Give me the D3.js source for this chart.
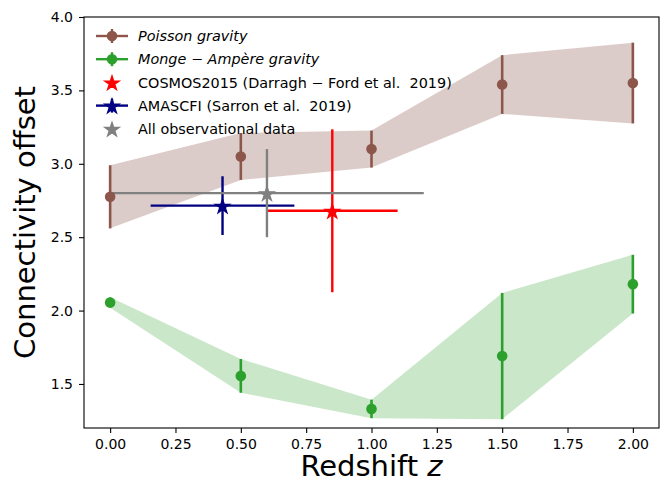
<!DOCTYPE html>
<html>
<head>
<meta charset="utf-8">
<script src="https://cdn.jsdelivr.net/npm/d3@7"></script>
<style>
  html, body { margin: 0; padding: 0; background: #fff; }
  svg { display: block; font-family: "DejaVu Sans", sans-serif; }
</style>
</head>
<body>
<svg id="chart" width="671" height="484"></svg>
<script>
// Redshift bins of the simulation runs
const redshifts = [0, 0.5, 1, 1.5, 2];

// Connectivity offset, Poisson gravity (mean and 1-sigma)
const poissonValues = [2.775, 3.05, 3.10, 3.54, 3.55];
const poissonErrors = [0.215, 0.16, 0.126, 0.2, 0.275];

// Connectivity offset, Monge–Ampère gravity (mean and 1-sigma)
const mongeValues = [2.055, 1.555, 1.33, 1.69, 2.18];
const mongeErrors = [0.035, 0.115, 0.063, 0.43, 0.2];

// Observational measurements: [z, zErr, offset, offsetErr]
const cosmosPoint = [0.85, 0.25, 2.68, 0.555];
const amascfiPoint = [0.43, 0.275, 2.715, 0.2];
const allObsPoint = [0.6, 0.6, 2.8, 0.3];

const xTicks = [0, 0.25, 0.5, 0.75, 1, 1.25, 1.5, 1.75, 2];
const yTicks = [1.5, 2.0, 2.5, 3.0, 3.5, 4.0];

const legendLabels = [
  [{t: "Poisson gravity", i: true}],
  [{t: "Monge", i: true}, {t: " \u2212 ", i: false}, {t: "Ampère gravity", i: true}],
  [{t: "COSMOS2015 (Darragh \u2212 Ford et al.  2019)", i: false}],
  [{t: "AMASCFI (Sarron et al.  2019)", i: false}],
  [{t: "All observational data", i: false}]
];

const BROWN = "#8c564b", GREEN = "#2ca02c", RED = "#ff0000", NAVY = "#000080", GREY = "#808080";

const svg = d3.select("#chart");
const plot = {left: 84, right: 659, top: 17, bottom: 428};

const x = d3.scaleLinear().domain([-0.1, 2.1]).range([plot.left, plot.right]);
const y = d3.scaleLinear().domain([1.2, 4.0]).range([plot.bottom, plot.top]);

svg.append("defs").append("clipPath").attr("id", "clip")
  .append("rect").attr("x", plot.left).attr("y", plot.top)
  .attr("width", plot.right - plot.left).attr("height", plot.bottom - plot.top);

const body = svg.append("g").attr("clip-path", "url(#clip)");

// Shaded 1-sigma bands
function band(vals, errs, color, alpha) {
  const pts = redshifts.map((z, i) => ({z, lo: vals[i] - errs[i], hi: vals[i] + errs[i]}));
  const area = d3.area().x(d => x(d.z)).y0(d => y(d.lo)).y1(d => y(d.hi));
  body.append("path").datum(pts).attr("d", area)
    .attr("fill", color).attr("fill-opacity", alpha).attr("stroke", "none");
}
band(poissonValues, poissonErrors, BROWN, 0.3);
band(mongeValues, mongeErrors, GREEN, 0.25);

// Five-pointed star marker centred on the origin
const star = d3.symbol().type({
  draw(ctx, size) {
    const R = Math.sqrt(size), r = R * 0.381966;
    for (let k = 0; k < 10; k++) {
      const a = -Math.PI / 2 + k * Math.PI / 5;
      const rr = k % 2 === 0 ? R : r;
      const px = rr * Math.cos(a), py = rr * Math.sin(a);
      if (k === 0) ctx.moveTo(px, py); else ctx.lineTo(px, py);
    }
    ctx.closePath();
  }
}).size(7.4 * 7.4);

function drawStar(g, cx, cy, color) {
  g.append("path").attr("d", star).attr("transform", `translate(${cx},${cy + 1})`)
    .attr("fill", color).attr("stroke", color).attr("stroke-width", 1.4)
    .attr("stroke-linejoin", "miter");
}

function obsPoint(p, color) {
  const [z, zE, c, cE] = p;
  const g = body.append("g");
  g.append("line").attr("x1", x(z - zE)).attr("x2", x(z + zE))
    .attr("y1", y(c)).attr("y2", y(c)).attr("stroke", color).attr("stroke-width", 2.4);
  g.append("line").attr("x1", x(z)).attr("x2", x(z))
    .attr("y1", y(c - cE)).attr("y2", y(c + cE)).attr("stroke", color).attr("stroke-width", 2.4);
  drawStar(g, x(z), y(c), color);
}
obsPoint(cosmosPoint, RED);
obsPoint(amascfiPoint, NAVY);
obsPoint(allObsPoint, GREY);

function modelSeries(vals, errs, color) {
  const g = body.append("g");
  redshifts.forEach((z, i) => {
    g.append("line").attr("x1", x(z)).attr("x2", x(z))
      .attr("y1", y(vals[i] - errs[i])).attr("y2", y(vals[i] + errs[i]))
      .attr("stroke", color).attr("stroke-width", 2.6);
    g.append("circle").attr("cx", x(z)).attr("cy", y(vals[i])).attr("r", 5.3)
      .attr("fill", color);
  });
}
modelSeries(poissonValues, poissonErrors, BROWN);
modelSeries(mongeValues, mongeErrors, GREEN);

// Axes
const xAxis = d3.axisBottom(x).tickValues(xTicks).tickFormat(d3.format(".2f"))
  .tickSize(5).tickPadding(6).tickSizeOuter(0);
const yAxis = d3.axisLeft(y).tickValues(yTicks).tickFormat(d3.format(".1f"))
  .tickSize(5).tickPadding(6).tickSizeOuter(0);

const gx = svg.append("g").attr("transform", `translate(0,${plot.bottom})`).call(xAxis);
const gy = svg.append("g").attr("transform", `translate(${plot.left},0)`).call(yAxis);
[gx, gy].forEach(g => {
  g.select(".domain").remove();
  g.selectAll(".tick line").attr("stroke", "#000").attr("stroke-width", 1.1);
  g.selectAll(".tick text").attr("fill", "#000").style("font-size", "14px")
    .style("font-family", "DejaVu Sans, sans-serif");
});

svg.append("rect").attr("x", plot.left).attr("y", plot.top)
  .attr("width", plot.right - plot.left).attr("height", plot.bottom - plot.top)
  .attr("fill", "none").attr("stroke", "#000").attr("stroke-width", 1.1);

// Axis titles
const xl = svg.append("text").attr("x", (plot.left + plot.right) / 2).attr("y", 476)
  .attr("text-anchor", "middle").style("font-size", "29px").attr("fill", "#000");
xl.append("tspan").text("Redshift ");
xl.append("tspan").attr("font-style", "italic").text("z");

svg.append("text").attr("transform", `translate(35,${(plot.top + plot.bottom) / 2}) rotate(-90)`)
  .attr("text-anchor", "middle").style("font-size", "29px").attr("fill", "#000")
  .text("Connectivity offset");

// Legend
const legendStyles = [
  {color: BROWN, line: true, marker: "circle", vbar: true},
  {color: GREEN, line: true, marker: "circle", vbar: true},
  {color: RED, line: false, marker: "star", vbar: false},
  {color: NAVY, line: true, marker: "star", vbar: true},
  {color: GREY, line: false, marker: "star", vbar: false}
];
const legend = svg.append("g");
legendLabels.forEach((parts, i) => {
  const cy = 36 + i * 23.2;
  const st = legendStyles[i];
  const g = legend.append("g");
  if (st.line) g.append("line").attr("x1", 96).attr("x2", 128).attr("y1", cy).attr("y2", cy)
    .attr("stroke", st.color).attr("stroke-width", 2.4);
  if (st.vbar) g.append("line").attr("x1", 112).attr("x2", 112).attr("y1", cy - 7).attr("y2", cy + 7)
    .attr("stroke", st.color).attr("stroke-width", 2.4);
  if (st.marker === "circle") g.append("circle").attr("cx", 112).attr("cy", cy).attr("r", 5.3).attr("fill", st.color);
  else drawStar(g, 112, cy, st.color);
  const t = g.append("text").attr("x", 138).attr("y", cy + 5.2).style("font-size", "14.4px").attr("fill", "#000");
  parts.forEach(p => t.append("tspan").attr("font-style", p.i ? "italic" : "normal")
    .style("white-space", "pre").text(p.t));
});
</script>
</body>
</html>
